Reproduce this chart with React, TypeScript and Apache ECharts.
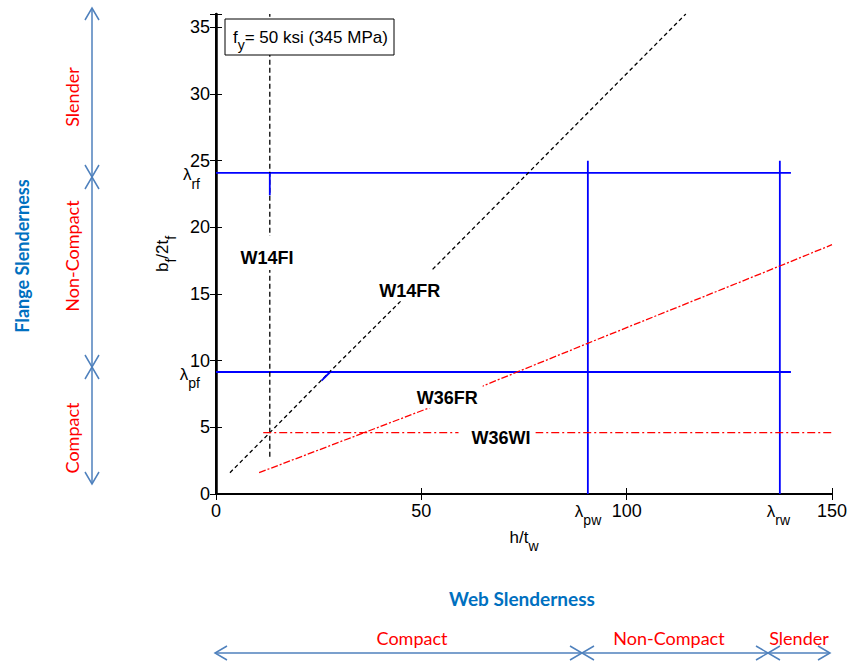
import React, { useEffect, useRef } from "react";
import * as echarts from "echarts";

// Axis ranges
const X_MIN = 0;
const X_MAX = 150;
const X_STEP = 50;
const Y_MIN = 0;
const Y_MAX = 36;
const Y_STEP = 5;

// Slenderness limits for Fy = 50 ksi
const lambdaRf = 24.08;
const lambdaPf = 9.15;
const lambdaPw = 90.55;
const lambdaRw = 137.3;
const flangeLimitEndX = 140;
const webLimitTopY = 25;

// Section traces: [h/tw, bf/2tf]
const w14fi = [[13.1, 2.8], [13.1, 36]];
const w14fiOverLimit = [[13.1, 22.4], [13.1, 24.08]];
const w14fr = [[3.4, 1.6], [13.1, 4.6], [27.8, 9.2], [52.6, 16.8], [83.8, 26.5], [114.4, 36]];
const w14frOverLimit = [[25.7, 8.5], [27.8, 9.15]];
const w36fr = [[10.5, 1.6], [51.4, 6.4], [90.5, 11.3], [137.3, 17.1], [150, 18.7]];
const w36wi = [[11.5, 4.6], [150, 4.6]];

const sectionNames = ["W14FI", "W14FR", "W36FR", "W36WI"];
const sectionLabelAt = [[12.4, 17.7], [47.2, 15.2], [56.3, 7.2], [69.4, 4.2]];

const flangeClasses = ["Slender", "Non-Compact", "Compact"];
const webClasses = ["Compact", "Non-Compact", "Slender"];

const FONT = '"Liberation Sans", Arial, sans-serif';
const NOTE_FONT = "Lato, \"Open Sans\", sans-serif";
const BLUE = "#0000ff";
const RED = "#ff0000";
const ARROW = "#4f81bd";
const NOTE_BLUE = "#0070c0";

const GRID = { left: 216, right: 19, top: 14, bottom: 168 };

// padding [top, right, bottom, left] of the white boxes behind the section names
const labelPads = [
  [13, 3, 3, 3],
  [12, 3, 1, 3],
  [6, 5, 1, 3],
  [5, 5, 2, 13],
];

const subRich = (size: number, subSize: number, drop: number) => ({
  a: { fontSize: size, fontFamily: FONT, color: "#000" },
  s: { fontSize: subSize, fontFamily: FONT, color: "#000", padding: [drop, 0, 0, 0] },
});

function doubleArrow(x1: number, y1: number, x2: number, y2: number) {
  const dx = x2 - x1;
  const dy = y2 - y1;
  const len = Math.hypot(dx, dy);
  const ux = dx / len;
  const uy = dy / len;
  const nx = -uy;
  const ny = ux;
  const L = 12;
  const W = 7;
  const head = (tx: number, ty: number, sgn: number) => [
    [tx + sgn * ux * L + nx * W, ty + sgn * uy * L + ny * W],
    [tx, ty],
    [tx + sgn * ux * L - nx * W, ty + sgn * uy * L - ny * W],
  ];
  const st = { stroke: ARROW, lineWidth: 1.5, fill: null as any };
  return [
    { type: "line", shape: { x1, y1, x2, y2 }, style: st },
    { type: "polyline", shape: { points: head(x1, y1, 1) }, style: st },
    { type: "polyline", shape: { points: head(x2, y2, -1) }, style: st },
  ];
}

function lineSeries(name: string, data: number[][], color: string, width: number, type: any, z = 2) {
  return {
    name,
    type: "line",
    data,
    showSymbol: false,
    symbol: "none",
    z,
    clip: true,
    lineStyle: { color, width, type },
  };
}

export default function App() {
  const ref = useRef<HTMLDivElement>(null);

  useEffect(() => {
    if (!ref.current) return;
    const chart = echarts.init(ref.current, null, { renderer: "svg" });

    const hiddenAxisCommon = {
      axisLine: { show: true, lineStyle: { color: "#000", width: 2 } },
      axisTick: { show: true, inside: true, length: 6, lineStyle: { color: "#000", width: 1 } },
      axisLabel: { show: false },
      splitLine: { show: false },
    };

    chart.setOption({
      animation: false,
      backgroundColor: "#fff",
      grid: { ...GRID, containLabel: false },
      xAxis: [
        {
          type: "value",
          min: X_MIN,
          max: X_MAX,
          interval: X_STEP,
          position: "bottom",
          axisLine: { show: true, lineStyle: { color: "#000", width: 2 } },
          axisTick: { show: true, inside: true, length: 6, lineStyle: { color: "#000", width: 1 } },
          axisLabel: { fontSize: 18, fontFamily: FONT, color: "#000", margin: 8 },
          splitLine: { show: false },
          name: "{a|h/t}{s|w}",
          nameLocation: "middle",
          nameGap: 27,
          nameTextStyle: { fontSize: 17, fontFamily: FONT, color: "#000", rich: subRich(17, 14, 18) },
        },
        { type: "value", min: X_MIN, max: X_MAX, interval: X_STEP, position: "top", ...hiddenAxisCommon },
      ],
      yAxis: [
        {
          type: "value",
          min: Y_MIN,
          max: Y_MAX,
          interval: Y_STEP,
          position: "left",
          axisLine: { show: true, lineStyle: { color: "#000", width: 2.5 } },
          axisTick: { show: true, inside: true, length: 6, lineStyle: { color: "#000", width: 1 } },
          axisLabel: {
            fontSize: 18,
            fontFamily: FONT,
            color: "#000",
            margin: 6,
            formatter: (v: number) => (v % 5 === 0 && v <= 35 ? String(v) : ""),
          },
          splitLine: { show: false },
        },
        { type: "value", min: Y_MIN, max: Y_MAX, interval: Y_STEP, position: "right", ...hiddenAxisCommon },
      ],
      series: [
        lineSeries("λrf", [[X_MIN, lambdaRf], [flangeLimitEndX, lambdaRf]], BLUE, 1.8, "solid"),
        lineSeries("λpf", [[X_MIN, lambdaPf], [flangeLimitEndX, lambdaPf]], BLUE, 1.8, "solid"),
        lineSeries("λpw", [[lambdaPw, Y_MIN], [lambdaPw, webLimitTopY]], BLUE, 1.8, "solid"),
        lineSeries("λrw", [[lambdaRw, Y_MIN], [lambdaRw, webLimitTopY]], BLUE, 1.8, "solid"),
        lineSeries("W14FI", w14fi, "#000", 1.3, [5, 3], 3),
        lineSeries("W14FR", w14fr, "#000", 1.3, [4, 3], 3),
        lineSeries("W36FR", w36fr, RED, 1.3, [7, 2, 2, 2], 3),
        lineSeries("W36WI", w36wi, RED, 1.3, [8, 3, 2, 3], 3),
        lineSeries("W14FI over λrf", w14fiOverLimit, BLUE, 1.8, "solid", 4),
        lineSeries("W14FR over λpf", w14frOverLimit, BLUE, 1.8, "solid", 4),
      ],
    });

    const toPx = (p: number[]) => chart.convertToPixel({ xAxisIndex: 0, yAxisIndex: 0 }, p) as number[];
    const origin = toPx([X_MIN, Y_MIN]);
    const top = toPx([X_MIN, Y_MAX]);

    const graphics: any[] = [];

    // Vertical axis title
    graphics.push({
      type: "text",
      z: 100,
      x: origin[0] - 54,
      y: (origin[1] + top[1]) / 2,
      rotation: Math.PI / 2,
      style: {
        text: "{a|b}{s|f}{a|/2t}{s|f}",
        rich: subRich(17, 14, 18),
        align: "center",
        verticalAlign: "middle",
      },
    });

    // Section names on white boxes
    sectionNames.forEach((name, i) => {
      const [cx, cy] = toPx(sectionLabelAt[i]);
      const [pt, pr, pb, pl] = labelPads[i];
      graphics.push({
        type: "text",
        z: 100,
        x: cx + (pr - pl) / 2,
        y: cy - 9 - pt,
        style: {
          text: name,
          font: `bold 18px ${FONT}`,
          fill: "#000",
          align: "center",
          verticalAlign: "top",
          backgroundColor: "#fff",
          padding: [pt, pr, pb, pl],
        },
      });
    });

    // Limit symbols beside the axes
    const lamRich = {
      l: { fontSize: 17, fontFamily: FONT, color: "#000", lineHeight: 12 },
      s: { fontSize: 14, fontFamily: FONT, color: "#000", lineHeight: 12, padding: [18, 0, 0, 0] },
    };
    const flangeLimits: [string, number][] = [["rf", lambdaRf], ["pf", lambdaPf]];
    flangeLimits.forEach(([sub, v]) => {
      const [, py] = toPx([X_MIN, v]);
      graphics.push({
        type: "text",
        z: 100,
        x: origin[0] - 16,
        y: py + 2,
        style: { text: `{l|λ}{s|${sub}}`, rich: lamRich, align: "right", verticalAlign: "middle" },
      });
    });
    const webLimits: [string, number][] = [["pw", lambdaPw], ["rw", lambdaRw]];
    webLimits.forEach(([sub, v]) => {
      const [px] = toPx([v, Y_MIN]);
      graphics.push({
        type: "text",
        z: 100,
        x: px - 13,
        y: origin[1] + 17,
        style: { text: `{l|λ}{s|${sub}}`, rich: lamRich, align: "left", verticalAlign: "middle" },
      });
    });

    // Yield strength box
    graphics.push({
      type: "group",
      z: 100,
      x: GRID.left + 9,
      y: GRID.top + 5,
      children: [
        {
          type: "rect",
          z: 100,
          shape: { x: 0, y: 0, width: 169, height: 36 },
          style: { fill: "#fff", stroke: "#000", lineWidth: 1 },
        },
        {
          type: "text",
          z: 101,
          x: 8,
          y: 18,
          style: {
            text: "{a|f}{s|y}{a|= 50 ksi (345 MPa)}",
            rich: subRich(17, 14, 16),
            align: "left",
            verticalAlign: "middle",
          },
        },
      ],
    });

    // Flange slenderness classes (left)
    const flangeStops = [8, 177, 367, 484];
    const flangeArrowX = 92;
    for (let i = 0; i < flangeClasses.length; i++) {
      graphics.push(...doubleArrow(flangeArrowX, flangeStops[i], flangeArrowX, flangeStops[i + 1]));
    }
    const flangeTextY = [97, 256, 438];
    flangeClasses.forEach((t, i) => {
      graphics.push({
        type: "text",
        x: 72,
        y: flangeTextY[i],
        rotation: Math.PI / 2,
        style: { text: t, font: `18px ${NOTE_FONT}`, fill: RED, align: "center", verticalAlign: "middle" },
      });
    });
    graphics.push({
      type: "text",
      x: 22,
      y: 256,
      rotation: Math.PI / 2,
      style: {
        text: "Flange Slenderness",
        font: `bold 18px ${NOTE_FONT}`,
        fill: NOTE_BLUE,
        align: "center",
        verticalAlign: "middle",
      },
    });

    // Web slenderness classes (bottom)
    const webStops = [215, 582, 768, 830];
    const webArrowY = 653;
    for (let i = 0; i < webClasses.length; i++) {
      graphics.push(...doubleArrow(webStops[i], webArrowY, webStops[i + 1], webArrowY));
    }
    const webTextX = [412, 669, 799];
    webClasses.forEach((t, i) => {
      graphics.push({
        type: "text",
        x: webTextX[i],
        y: 638,
        style: { text: t, font: `18px ${NOTE_FONT}`, fill: RED, align: "center", verticalAlign: "middle" },
      });
    });
    graphics.push({
      type: "text",
      x: 522,
      y: 598,
      style: {
        text: "Web Slenderness",
        font: `bold 19px ${NOTE_FONT}`,
        fill: NOTE_BLUE,
        align: "center",
        verticalAlign: "middle",
      },
    });

    chart.setOption({ graphic: graphics });

    return () => chart.dispose();
  }, []);

  return (
    <div
      ref={ref}
      style={{ position: "fixed", left: 0, top: 0, width: 851, height: 662, background: "#fff" }}
    />
  );
}
